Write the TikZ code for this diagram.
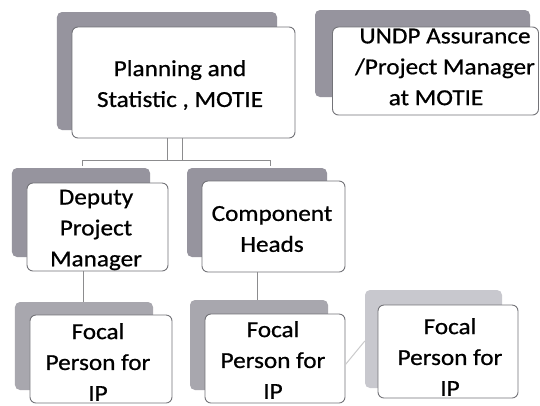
\documentclass[tikz,border=0pt]{standalone}
\usepackage{fontspec}
\setmainfont{Carlito}[FakeStretch=1.1, FakeBold=0.7]
\definecolor{shadeA}{RGB}{150,148,158}
\definecolor{shadeB}{RGB}{168,167,174}
\definecolor{shadeC}{RGB}{200,200,206}
\definecolor{framegray}{RGB}{115,115,120}
\definecolor{linkgray}{RGB}{140,140,142}
\tikzset{
  backcard/.style={fill=shadeA, draw=none, rounded corners=5bp, inner sep=0pt},
  card/.style={fill=white, draw=framegray, line width=0.9bp, rounded corners=6bp, inner sep=0pt},
  cardtext/.style={align=center, inner sep=0pt, font=\fontsize{23}{31}\selectfont, text=black},
  link/.style={draw=linkgray, line width=1bp},
}
\begin{document}
\begin{tikzpicture}[x=1bp, y=-1bp]
\useasboundingbox (0,0) rectangle (540,405);
\fill[white] (0,0) rectangle (540,405);

% --- top level: planning unit
\node[backcard, minimum width=220bp, minimum height=118bp] (planS) at (167,71) {};
\node[card, minimum width=223bp, minimum height=111bp] (plan) at (183.5,82.5) {};
\node[cardtext] (planT) at (180,85) {Planning and\\Statistic , MOTIE};

% --- assurance role
\node[backcard, minimum width=215bp, minimum height=87bp] (undpS) at (422.5,53.5) {};
\node[card, minimum width=206bp, minimum height=88bp] (undp) at (435.5,71) {};
\node[cardtext] (undpT) at (445,67) {UNDP Assurance\\/Project Manager\\\hspace*{-18bp}at MOTIE};

% --- second level
\node[backcard, minimum width=138bp, minimum height=89bp] (depS) at (81,212.5) {};
\node[card, minimum width=141bp, minimum height=88bp] (dep) at (97.5,227) {};
\node[cardtext] (depT) at (96,230) {Deputy\\Project\\Manager};

\node[backcard, minimum width=140bp, minimum height=89bp] (compS) at (257,212.5) {};
\node[card, minimum width=143bp, minimum height=91bp] (comp) at (273.5,226.5) {};
\node[cardtext] (compT) at (272,229) {Component\\Heads};

% --- third level: focal persons
\node[backcard, fill=shadeB, minimum width=138bp, minimum height=88bp] (faS) at (84,346) {};
\node[card, minimum width=142bp, minimum height=88bp] (fa) at (101,359) {};
\node[cardtext] (faT) at (98,362) {Focal\\Person for\\IP};

\node[backcard, fill=shadeB, minimum width=138bp, minimum height=90bp] (fbS) at (259,345) {};
\node[card, minimum width=140bp, minimum height=89bp] (fb) at (275,358.5) {};
\node[cardtext] (fbT) at (273,360) {Focal\\Person for\\IP};

\node[backcard, fill=shadeC, minimum width=137bp, minimum height=98bp] (fcS) at (433.5,339) {};
\node[card, minimum width=140bp, minimum height=93bp] (fc) at (448,351.5) {};
\node[cardtext] (fcT) at (450,357) {Focal\\Person for\\IP};

% --- connectors
\coordinate (barL) at (82,160);
\coordinate (barR) at (270,160);
\coordinate (tickL) at (82,166);
\coordinate (tickR) at (270,166);
\draw[link] ([xshift=-16bp]plan.south) -- ([xshift=-16bp]plan.south |- barL);
\draw[link] ([xshift=-1bp]plan.south) -- ([xshift=-1bp]plan.south |- barL);
\draw[link] (tickL) -- (barL) -- (barR) -- (tickR);

\draw[link] ([xshift=-14bp]dep.south) -- ([xshift=-14bp]dep.south |- faS.north);
\draw[link] ([xshift=-16bp]comp.south) -- ([xshift=-16bp]comp.south |- fbS.north);
\draw[link, draw=linkgray!45] ([yshift=-6bp]fb.east) -- ([yshift=-2bp]fcS.west);
\end{tikzpicture}
\end{document}
